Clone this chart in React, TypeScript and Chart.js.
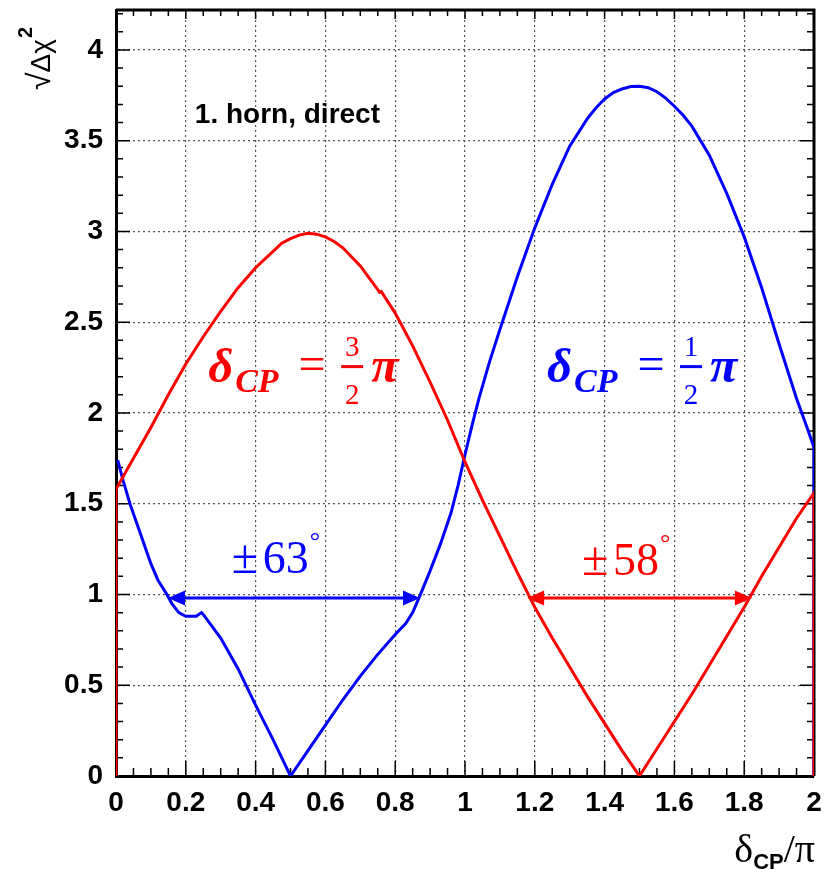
import React, { useEffect, useRef } from 'react';
import { Chart, registerables } from 'chart.js';

Chart.register(...registerables);

// ---- data ----
const redX = [0, 0, 0.05, 0.1, 0.15, 0.2, 0.25, 0.3, 0.35, 0.4, 0.45, 0.475, 0.5, 0.525, 0.55, 0.575, 0.6, 0.625, 0.65, 0.7, 0.75, 0.755, 0.76, 0.8, 0.85, 0.9, 0.95, 1.0, 1.05, 1.1, 1.15, 1.2, 1.25, 1.3, 1.35, 1.4, 1.45, 1.5, 1.55, 1.6, 1.65, 1.7, 1.75, 1.8, 1.85, 1.9, 1.95, 2.0, 2.0];
const redY = [0, 1.58, 1.75, 1.92, 2.1, 2.27, 2.42, 2.56, 2.69, 2.8, 2.89, 2.935, 2.96, 2.98, 2.99, 2.985, 2.97, 2.945, 2.91, 2.81, 2.68, 2.665, 2.67, 2.55, 2.37, 2.17, 1.96, 1.73, 1.52, 1.32, 1.12, 0.93, 0.76, 0.6, 0.44, 0.29, 0.14, 0, 0.15, 0.3, 0.45, 0.61, 0.77, 0.93, 1.1, 1.26, 1.42, 1.56, 0];

const blueX = [0.005, 0.02, 0.04, 0.06, 0.08, 0.1, 0.12, 0.146, 0.16, 0.18, 0.2, 0.23, 0.245, 0.25, 0.3, 0.35, 0.4, 0.45, 0.5, 0.55, 0.6, 0.65, 0.7, 0.75, 0.8, 0.83, 0.85, 0.87, 0.9, 0.93, 0.96, 0.98, 1.0, 1.02, 1.04, 1.07, 1.1, 1.15, 1.2, 1.25, 1.3, 1.35, 1.375, 1.4, 1.425, 1.45, 1.475, 1.5, 1.525, 1.55, 1.575, 1.6, 1.625, 1.65, 1.7, 1.75, 1.8, 1.85, 1.9, 1.95, 1.98, 2.0, 2.0];
const blueY = [1.74, 1.63, 1.5, 1.39, 1.28, 1.17, 1.08, 1.0, 0.95, 0.9, 0.88, 0.88, 0.9, 0.89, 0.76, 0.59, 0.39, 0.2, 0, 0.14, 0.28, 0.42, 0.55, 0.67, 0.78, 0.84, 0.9, 0.99, 1.13, 1.28, 1.45, 1.6, 1.77, 1.93, 2.08, 2.28, 2.46, 2.75, 3.02, 3.26, 3.47, 3.62, 3.68, 3.73, 3.765, 3.785, 3.798, 3.8, 3.792, 3.77, 3.735, 3.69, 3.64, 3.58, 3.42, 3.21, 2.97, 2.69, 2.38, 2.08, 1.92, 1.81, 0];

// axes
const xMin = 0, xMax = 2, xStep = 0.2, xMinorStep = 0.05;
const yMin = 0, yMax = 4.22, yStep = 0.5, yMinorStep = 0.1;

// annotations (data coordinates)
const arrowY = 0.98;
const blueArrowX = [0.149, 0.871];
const redArrowX = [1.178, 1.822];
const blueAngleText = ['±', '63', '°'];
const redAngleText = ['±', '58', '°'];
const blueAngleAnchor = [0.332, 1.118];
const redAngleAnchor = [1.335, 1.107];
const redEqAnchor = [0.264, 2.17];
const blueEqAnchor = [1.235, 2.17];
const redEqNum = '3';
const blueEqNum = '1';
const setupLabel = '1. horn, direct';
const setupAnchor = [0.226, 3.6];

const RED = '#ff0000';
const BLUE = '#0000ff';

function drawArrow(ctx: CanvasRenderingContext2D, x1: number, x2: number, yv: number, color: string) {
  const hl = 17, hw = 7.5;
  ctx.strokeStyle = color;
  ctx.fillStyle = color;
  ctx.lineWidth = 3;
  ctx.beginPath();
  ctx.moveTo(x1 + hl - 2, yv);
  ctx.lineTo(x2 - hl + 2, yv);
  ctx.stroke();
  ctx.beginPath();
  ctx.moveTo(x1, yv);
  ctx.lineTo(x1 + hl, yv - hw);
  ctx.lineTo(x1 + hl, yv + hw);
  ctx.closePath();
  ctx.fill();
  ctx.beginPath();
  ctx.moveTo(x2, yv);
  ctx.lineTo(x2 - hl, yv - hw);
  ctx.lineTo(x2 - hl, yv + hw);
  ctx.closePath();
  ctx.fill();
}

function drawEq(ctx: CanvasRenderingContext2D, x0: number, base: number, color: string, num: string) {
  ctx.fillStyle = color;
  ctx.textBaseline = 'alphabetic';
  ctx.textAlign = 'left';
  ctx.font = 'bold italic 49px "Liberation Serif"';
  ctx.fillText('δ', x0, base);
  ctx.font = 'bold italic 34px "Liberation Serif"';
  ctx.fillText('CP', x0 + 27, base + 10);
  ctx.font = '48px "Liberation Serif"';
  ctx.textAlign = 'center';
  ctx.fillText('=', x0 + 104, base - 2);
  ctx.font = '29px "Liberation Serif"';
  ctx.fillText(num, x0 + 144, base - 26);
  ctx.fillText('2', x0 + 144, base + 22);
  ctx.fillRect(x0 + 133, base - 17, 22, 3);
  ctx.textAlign = 'left';
  ctx.font = 'bold italic 50px "Liberation Serif"';
  ctx.fillText('π', x0 + 163, base);
}

function drawAngle(ctx: CanvasRenderingContext2D, x0: number, base: number, color: string, parts: string[]) {
  ctx.fillStyle = color;
  ctx.textBaseline = 'alphabetic';
  ctx.textAlign = 'left';
  ctx.font = '48px "Liberation Serif"';
  ctx.fillText(parts[0], x0, base);
  ctx.font = '46px "Liberation Serif"';
  ctx.fillText(parts[1], x0 + 31, base);
  const w = ctx.measureText(parts[1]).width;
  ctx.font = '26px "Liberation Serif"';
  ctx.fillText(parts[2], x0 + 31 + w + 1, base - 24);
}

const overlay = {
  id: 'overlay',
  beforeDatasetsDraw(chart: any) {
    const { ctx, chartArea: a, scales } = chart;
    const x = scales.x, y = scales.y;
    ctx.save();
    ctx.strokeStyle = '#000';
    ctx.lineWidth = 3;
    ctx.beginPath();
    ctx.moveTo(a.left, a.top);
    ctx.lineTo(a.right, a.top);
    ctx.lineTo(a.right, a.bottom);
    ctx.stroke();
    ctx.lineWidth = 1.5;
    const nx = Math.round((xMax - xMin) / xMinorStep);
    for (let i = 0; i <= nx; i++) {
      const v = xMin + i * xMinorStep;
      const px = x.getPixelForValue(v);
      const major = i % Math.round(xStep / xMinorStep) === 0;
      ctx.beginPath();
      ctx.moveTo(px, a.bottom);
      ctx.lineTo(px, a.bottom - (major ? 15 : 8));
      ctx.moveTo(px, a.top);
      ctx.lineTo(px, a.top + (major ? 9 : 6));
      ctx.stroke();
    }
    const ny = Math.floor((yMax - yMin) / yMinorStep + 1e-6);
    for (let i = 0; i <= ny; i++) {
      const v = yMin + i * yMinorStep;
      const py = y.getPixelForValue(v);
      const major = i % Math.round(yStep / yMinorStep) === 0;
      ctx.beginPath();
      ctx.moveTo(a.left, py);
      ctx.lineTo(a.left + (major ? 14 : 7), py);
      ctx.moveTo(a.right, py);
      ctx.lineTo(a.right - (major ? 14 : 7), py);
      ctx.stroke();
    }
    ctx.restore();
  },
  afterDatasetsDraw(chart: any) {
    const { ctx, scales } = chart;
    const x = scales.x, y = scales.y;
    ctx.save();
    drawArrow(ctx, x.getPixelForValue(blueArrowX[0]), x.getPixelForValue(blueArrowX[1]), y.getPixelForValue(arrowY), BLUE);
    drawArrow(ctx, x.getPixelForValue(redArrowX[0]), x.getPixelForValue(redArrowX[1]), y.getPixelForValue(arrowY), RED);
    drawAngle(ctx, x.getPixelForValue(blueAngleAnchor[0]), y.getPixelForValue(blueAngleAnchor[1]), BLUE, blueAngleText);
    drawAngle(ctx, x.getPixelForValue(redAngleAnchor[0]), y.getPixelForValue(redAngleAnchor[1]), RED, redAngleText);
    drawEq(ctx, x.getPixelForValue(redEqAnchor[0]), y.getPixelForValue(redEqAnchor[1]), RED, redEqNum);
    drawEq(ctx, x.getPixelForValue(blueEqAnchor[0]), y.getPixelForValue(blueEqAnchor[1]), BLUE, blueEqNum);
    ctx.fillStyle = '#000';
    ctx.textAlign = 'left';
    ctx.textBaseline = 'alphabetic';
    ctx.font = 'bold 28px "Liberation Sans"';
    ctx.fillText(setupLabel, x.getPixelForValue(setupAnchor[0]), y.getPixelForValue(setupAnchor[1]));
    ctx.restore();
  },
  afterDraw(chart: any) {
    const { ctx, chartArea: a } = chart;
    ctx.save();
    ctx.fillStyle = '#000';
    ctx.textBaseline = 'alphabetic';
    // y title (rotated)
    ctx.save();
    ctx.translate(a.left - 66, a.top + 80);
    ctx.rotate(-Math.PI / 2);
    ctx.textAlign = 'left';
    ctx.font = '32px "Liberation Sans"';
    ctx.fillText('√', 0, 0);
    let w = ctx.measureText('√').width;
    ctx.font = '28px "Liberation Sans"';
    ctx.fillText('Δχ', w, 0);
    w += ctx.measureText('Δχ').width;
    ctx.font = 'bold 20px "Liberation Sans"';
    ctx.fillText('2', w + 1, -18);
    ctx.restore();
    // x title
    const base = a.bottom + 86;
    ctx.font = '40px "Liberation Serif"';
    const wd = ctx.measureText('δ').width;
    const wp = ctx.measureText('/π').width;
    ctx.font = 'bold 22px "Liberation Sans"';
    const wc = ctx.measureText('CP').width;
    let sx = a.right + 1 - (wd + wc + wp);
    ctx.font = '40px "Liberation Serif"';
    ctx.textAlign = 'left';
    ctx.fillText('δ', sx, base);
    sx += wd;
    ctx.font = 'bold 22px "Liberation Sans"';
    ctx.fillText('CP', sx, base + 7);
    sx += wc;
    ctx.font = '40px "Liberation Serif"';
    ctx.fillText('/π', sx, base);
    ctx.restore();
  },
};

export default function App() {
  const ref = useRef<HTMLCanvasElement>(null);
  useEffect(() => {
    if (!ref.current) return;
    const fmt = (v: any) => String(Number(Number(v).toFixed(2)));
    const chart = new Chart(ref.current, {
      type: 'line',
      data: {
        datasets: [
          {
            label: 'red',
            data: redX.map((xv, i) => ({ x: xv, y: redY[i] })),
            borderColor: RED,
            borderWidth: 3,
            pointRadius: 0,
            tension: 0,
            fill: false,
          },
          {
            label: 'blue',
            data: blueX.map((xv, i) => ({ x: xv, y: blueY[i] })),
            borderColor: BLUE,
            borderWidth: 3,
            pointRadius: 0,
            tension: 0,
            fill: false,
          },
        ],
      },
      options: {
        animation: false,
        responsive: false,
        devicePixelRatio: 1,
        parsing: false as any,
        layout: { padding: { top: 10, right: 11, left: 0, bottom: 0 } },
        plugins: { legend: { display: false }, tooltip: { enabled: false } },
        events: [],
        scales: {
          x: {
            type: 'linear',
            min: xMin,
            max: xMax,
            afterFit: (s: any) => { s.height = 97; s.paddingLeft = 0; s.paddingRight = 0; },
            grid: { color: '#555', lineWidth: 1.2, drawTicks: false },
            border: { display: true, color: '#000', width: 3, dash: [2, 3] },
            ticks: {
              stepSize: xStep,
              padding: 10,
              color: '#000',
              maxRotation: 0,
              autoSkip: false,
              includeBounds: false,
              font: { family: '"Liberation Sans"', size: 28, weight: 'bold' },
              callback: fmt,
            },
          },
          y: {
            type: 'linear',
            min: yMin,
            max: yMax,
            afterFit: (s: any) => { s.width = 116; s.paddingTop = 0; s.paddingBottom = 0; },
            grid: { color: '#555', lineWidth: 1.2, drawTicks: false },
            border: { display: true, color: '#000', width: 3, dash: [2, 3] },
            ticks: {
              stepSize: yStep,
              padding: 13,
              color: '#000',
              autoSkip: false,
              includeBounds: false,
              font: { family: '"Liberation Sans"', size: 28, weight: 'bold' },
              callback: fmt,
            },
          },
        },
      } as any,
      plugins: [overlay],
    });
    return () => chart.destroy();
  }, []);
  return (
    <div style={{ position: 'fixed', left: 0, top: 0, width: 825, height: 873, background: '#fff' }}>
      <canvas ref={ref} width={825} height={873} style={{ display: 'block', width: 825, height: 873 }} />
    </div>
  );
}
